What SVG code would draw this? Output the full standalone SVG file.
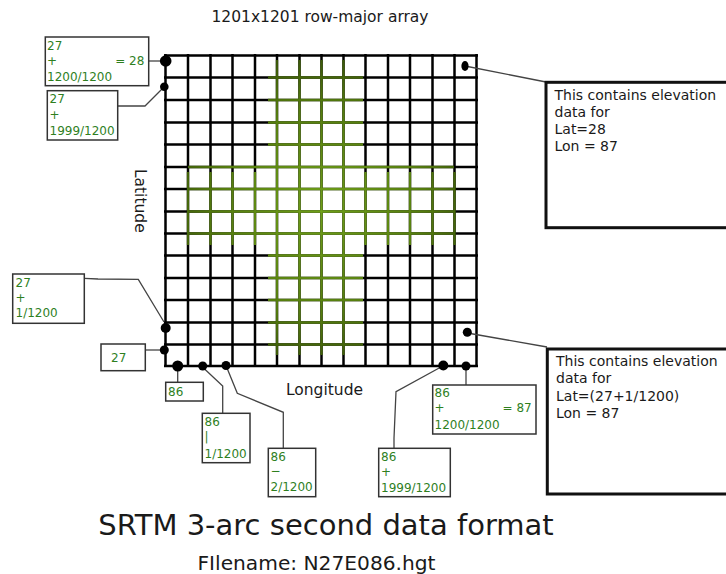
<svg xmlns="http://www.w3.org/2000/svg" width="726" height="574" viewBox="0 0 726 574">
<style>
  .lbl{font-family:"DejaVu Sans","Liberation Sans",sans-serif;font-size:12px;fill:#2f7f1f}
  .blk{font-family:"DejaVu Sans","Liberation Sans",sans-serif;fill:#1a1a1a}
  .gbox{fill:#fff;stroke:#333;stroke-width:1.5}
  .bbox{fill:#fff;stroke:#111;stroke-width:3}
  .con{fill:none;stroke:#444;stroke-width:1.3}
  .dot{fill:#000}
</style>
<defs>
  <radialGradient id="glow" gradientUnits="userSpaceOnUse" cx="321" cy="211" r="170">
    <stop offset="0" stop-color="#6fa018"/>
    <stop offset="0.6" stop-color="#557d0e"/>
    <stop offset="1" stop-color="#334d06"/>
  </radialGradient>
</defs>
<rect width="726" height="574" fill="#fff"/>

<g id="grid">
  <path fill="none" stroke="#000" stroke-width="2.5" d="
  M165.5,54 V367 M188,54 V367 M210.5,54 V367 M232.5,54 V367 M255,54 V367 M277,54 V367 M299.5,54 V367 M321.5,54 V367 M343.5,54 V367 M365.5,54 V367 M388,54 V367 M410,54 V367 M432.5,54 V367 M454.5,54 V367 M476.5,54 V367
  M164,55.5 H478 M164,77.5 H478 M164,100 H478 M164,122.5 H478 M164,144.5 H478 M164,167 H478 M164,189 H478 M164,211.5 H478 M164,233.5 H478 M164,255.5 H478 M164,278 H478 M164,300 H478 M164,322.5 H478 M164,344.5 H478 M164,366 H478"/>
  <path fill="none" stroke="url(#glow)" stroke-width="2.3" d="
  M277,60 V355 M299.5,60 V355 M321.5,60 V355 M343.5,60 V355
  M188,167 H454 M188,189 H454 M188,211.5 H454 M188,233.5 H454
  M268,77.5 H363 M268,100 H363 M268,122.5 H363 M268,144.5 H363
  M268,255.5 H363 M268,278 H363 M268,300 H363 M268,322.5 H363 M268,344.5 H363
  M188,172 V245 M210.5,172 V245 M232.5,172 V245 M255,172 V245
  M365.5,172 V245 M388,172 V245 M410,172 V245 M432.5,172 V245 M454.5,172 V245"/>
</g>

<g id="connectors">
  <path class="con" d="M148.7,61 H162"/>
  <path class="con" d="M117.7,106 H145 L163.5,87.5"/>
  <path class="con" d="M84.3,278.3 L98,279 L138.3,279.3 L164,322"/>
  <path class="con" d="M145.3,350 H162"/>
  <path class="con" d="M177.7,368 V382.3"/>
  <path class="con" d="M203.5,368 L222.7,386 V413.3"/>
  <path class="con" d="M227,368 L237.3,393.3 L283.3,412.3 V448.3"/>
  <path class="con" d="M441,367 L396,391.7 L394,438 V448.3"/>
  <path class="con" d="M466,368 V385"/>
  <path class="con" d="M467.3,333 L547,347"/>
  <path class="con" d="M465,66 L546,82"/>
</g>

<g id="dots">
  <circle class="dot" cx="165.7" cy="61" r="5.8"/>
  <circle class="dot" cx="164.3" cy="86.7" r="4.3"/>
  <ellipse class="dot" cx="465" cy="66" rx="3.6" ry="5"/>
  <circle class="dot" cx="165.7" cy="328" r="5"/>
  <circle class="dot" cx="164.3" cy="350" r="4.5"/>
  <circle class="dot" cx="177.7" cy="366" r="5.5"/>
  <circle class="dot" cx="202.7" cy="366" r="4.5"/>
  <circle class="dot" cx="226" cy="365.5" r="4.5"/>
  <circle class="dot" cx="443.3" cy="365.5" r="5"/>
  <circle class="dot" cx="466" cy="366" r="4.5"/>
  <circle class="dot" cx="467.3" cy="332.3" r="4.5"/>
</g>

<g id="title">
  <text class="blk" x="320" y="22.3" font-size="15.5" text-anchor="middle">1201x1201 row-major array</text>
</g>
<g id="latitude">
  <text class="blk" font-size="15.5" text-anchor="middle" transform="translate(135,200.8) rotate(90)">Latitude</text>
</g>
<g id="longitude">
  <text class="blk" x="324.5" y="395" font-size="15.5" text-anchor="middle">Longitude</text>
</g>

<g id="box-lat-top">
  <rect class="gbox" x="45.3" y="37" width="103.4" height="48.7"/>
  <text class="lbl" x="47" y="50">27</text>
  <text class="lbl" x="47" y="65">+</text>
  <text class="lbl" x="144.3" y="65" text-anchor="end">= 28</text>
  <text class="lbl" x="47" y="81">1200/1200</text>
</g>
<g id="box-lat-1999">
  <rect class="gbox" x="47.3" y="90.7" width="70.4" height="49.3"/>
  <text class="lbl" x="49.5" y="103">27</text>
  <text class="lbl" x="49.5" y="118.5">+</text>
  <text class="lbl" x="49.5" y="135">1999/1200</text>
</g>
<g id="box-lat-1">
  <rect class="gbox" x="12.7" y="274" width="71.6" height="49.3"/>
  <text class="lbl" x="15.5" y="286.7">27</text>
  <text class="lbl" x="15.5" y="302">+</text>
  <text class="lbl" x="15.5" y="317">1/1200</text>
</g>
<g id="box-lat-27">
  <rect class="gbox" x="101" y="344" width="44.3" height="26.7"/>
  <text class="lbl" x="111" y="362">27</text>
</g>
<g id="box-lon-86">
  <rect class="gbox" x="165.7" y="382.3" width="37.6" height="18.7"/>
  <text class="lbl" x="168" y="396">86</text>
</g>
<g id="box-lon-1">
  <rect class="gbox" x="202.3" y="413.3" width="47.7" height="49.4"/>
  <text class="lbl" x="204.5" y="426">86</text>
  <text class="lbl" x="204.5" y="441">|</text>
  <text class="lbl" x="204.5" y="457.5">1/1200</text>
</g>
<g id="box-lon-2">
  <rect class="gbox" x="268.3" y="448.3" width="47.4" height="48.4"/>
  <text class="lbl" x="270.5" y="461">86</text>
  <text class="lbl" x="270.5" y="475">−</text>
  <text class="lbl" x="270.5" y="490.5">2/1200</text>
</g>
<g id="box-lon-1999">
  <rect class="gbox" x="378.7" y="448.3" width="71.6" height="48.4"/>
  <text class="lbl" x="381" y="461">86</text>
  <text class="lbl" x="381" y="476">+</text>
  <text class="lbl" x="381" y="491.5">1999/1200</text>
</g>
<g id="box-lon-87">
  <rect class="gbox" x="432.7" y="385" width="103.3" height="49"/>
  <text class="lbl" x="434.5" y="397">86</text>
  <text class="lbl" x="434.5" y="412">+</text>
  <text class="lbl" x="531.7" y="412" text-anchor="end">= 87</text>
  <text class="lbl" x="434.5" y="428.5">1200/1200</text>
</g>

<g id="info-top">
  <rect class="bbox" x="546" y="82.3" width="190" height="145.4"/>
  <text class="blk" font-size="14" x="554.5" y="99.5">This contains elevation</text>
  <text class="blk" font-size="14" x="554.5" y="116.8">data for</text>
  <text class="blk" font-size="14" x="554.5" y="133.5">Lat=28</text>
  <text class="blk" font-size="14" x="554.5" y="150.8">Lon = 87</text>
</g>
<g id="info-bottom">
  <rect class="bbox" x="547.3" y="349" width="190" height="145"/>
  <text class="blk" font-size="14" x="556" y="366">This contains elevation</text>
  <text class="blk" font-size="14" x="556" y="383.3">data for</text>
  <text class="blk" font-size="14" x="556" y="400.7">Lat=(27+1/1200)</text>
  <text class="blk" font-size="14" x="556" y="417.5">Lon = 87</text>
</g>

<g id="caption">
  <text class="blk" x="326" y="535" font-size="29" text-anchor="middle">SRTM 3-arc second data format</text>
  <text class="blk" x="316.5" y="570" font-size="20.2" text-anchor="middle">FIlename: N27E086.hgt</text>
</g>
</svg>
